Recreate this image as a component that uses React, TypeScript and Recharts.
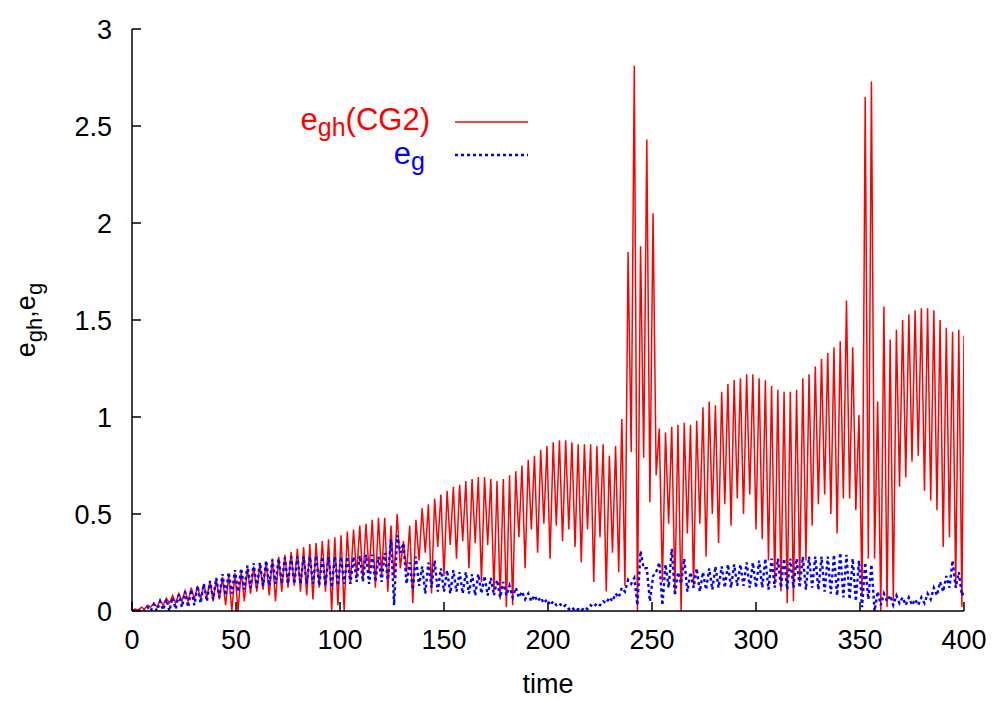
import React from 'react';
import { LineChart, Line, XAxis, YAxis, Legend, Label } from 'recharts';

// half a period of the oscillation; troughs sit on t = 2k*STEP, peaks on (2k+1)*STEP
const STEP = 1.5;

const timeTicks = [0, 50, 100, 150, 200, 250, 300, 350, 400];
const valueTicks = [0, 0.5, 1, 1.5, 2, 2.5, 3];

// e_gh (CG2): local maxima of each cycle
const redPeaks = [
  0.01, 0.02, 0.03, 0.04, 0.055, 0.065, 0.08, 0.09, 0.105, 0.12,
  0.13, 0.14, 0.155, 0.165, 0.175, 0.185, 0.195, 0.205, 0.22, 0.23,
  0.24, 0.255, 0.27, 0.28, 0.29, 0.305, 0.32, 0.33, 0.345, 0.35,
  0.36, 0.37, 0.38, 0.39, 0.41, 0.42, 0.44, 0.45, 0.47, 0.48,
  0.48, 0.44, 0.5, 0.36, 0.44, 0.47, 0.53, 0.55, 0.58, 0.6,
  0.62, 0.64, 0.65, 0.67, 0.68, 0.69, 0.69, 0.68, 0.67, 0.68,
  0.7, 0.72, 0.75, 0.78, 0.8, 0.83, 0.85, 0.87, 0.88, 0.88,
  0.87, 0.86, 0.86, 0.86, 0.85, 0.86, 0.8, 0.85, 0.99, 1.85,
  2.81, 1.88, 2.43, 2.05, 0.94, 0.92, 0.95, 0.96, 0.97, 0.96,
  0.98, 1.05, 1.08, 1.06, 1.13, 1.17, 1.19, 1.2, 1.22, 1.22,
  1.2, 1.19, 1.16, 1.14, 1.13, 1.13, 1.14, 1.2, 1.22, 1.26,
  1.3, 1.33, 1.36, 1.39, 1.6, 1.36, 1.01, 2.65, 2.73, 1.08,
  1.57, 1.4, 1.45, 1.5, 1.53, 1.55, 1.56, 1.56, 1.55, 1.5,
  1.46, 1.44, 1.45,
];

// e_gh (CG2): local minima of each cycle
const redTroughs = [
  0.0, 0.005, 0.01, 0.02, 0.02, 0.03, 0.04, 0.04, 0.05, 0.05,
  0.06, 0.06, 0.07, 0.05, 0.06, 0.03, 0.0, 0.0, 0.05, 0.09,
  0.1, 0.11, 0.08, 0.05, 0.1, 0.12, 0.13, 0.1, 0.08, 0.06,
  0.12, 0.1, 0.0, 0.03, 0.0, 0.14, 0.18, 0.16, 0.2, 0.12,
  0.18, 0.1, 0.17, 0.22, 0.2, 0.04, 0.26, 0.3, 0.09, 0.33,
  0.18, 0.34, 0.27, 0.36, 0.22, 0.35, 0.15, 0.34, 0.1, 0.06,
  0.02, 0.03, 0.38, 0.22, 0.42, 0.3, 0.45, 0.27, 0.44, 0.36,
  0.42, 0.33, 0.25, 0.42, 0.15, 0.38, 0.1, 0.3, 0.2, 0.13,
  0.82, 0.0, 0.79, 0.56, 0.7, 0.15, 0.45, 0.1, 0.0, 0.4,
  0.12, 0.45, 0.28, 0.5, 0.35, 0.55, 0.44, 0.58, 0.5, 0.6,
  0.42, 0.37, 0.26, 0.14, 0.1, 0.04, 0.05, 0.15, 0.26, 0.44,
  0.55, 0.6, 0.5, 0.4, 0.58, 0.58, 0.52, 0.08, 0.27, 0.27,
  0.0, 0.02, 0.05, 0.64, 0.69, 0.77, 0.8, 0.62, 0.57, 0.52,
  0.33, 0.38, 0.12, 0.02,
];

// e_g: local maxima of each cycle
const bluePeaks = [
  0.005, 0.01, 0.02, 0.035, 0.05, 0.06, 0.07, 0.085, 0.1, 0.11,
  0.13, 0.14, 0.155, 0.17, 0.19, 0.2, 0.21, 0.22, 0.235, 0.245,
  0.25, 0.26, 0.265, 0.27, 0.275, 0.28, 0.28, 0.28, 0.28, 0.285,
  0.28, 0.28, 0.28, 0.28, 0.28, 0.28, 0.285, 0.29, 0.29, 0.28,
  0.3, 0.37, 0.39, 0.35, 0.25, 0.28, 0.23, 0.25, 0.26, 0.22,
  0.21, 0.21, 0.2, 0.2, 0.19, 0.19, 0.18, 0.17, 0.16, 0.15,
  0.13, 0.12, 0.1, 0.09, 0.08, 0.07, 0.06, 0.05, 0.04, 0.03,
  0.02, 0.01, 0.02, 0.03, 0.04, 0.05, 0.07, 0.09, 0.12, 0.16,
  0.17, 0.31, 0.22, 0.18, 0.25, 0.24, 0.32, 0.2, 0.27, 0.2,
  0.22, 0.2, 0.22, 0.23, 0.23, 0.24, 0.24, 0.24, 0.25, 0.25,
  0.26, 0.27, 0.27, 0.27, 0.27, 0.27, 0.27, 0.28, 0.28, 0.28,
  0.28, 0.28, 0.29, 0.3, 0.29, 0.27, 0.26, 0.25, 0.24, 0.1,
  0.09, 0.08, 0.08, 0.07, 0.07, 0.06, 0.07, 0.09, 0.12, 0.15,
  0.18, 0.26, 0.2,
];

// e_g: local minima of each cycle
const blueTroughs = [
  0.0, 0.0, 0.0, 0.0, 0.0, 0.005, 0.0, 0.01, 0.02, 0.02,
  0.03, 0.04, 0.05, 0.06, 0.07, 0.08, 0.09, 0.1, 0.11, 0.12,
  0.12, 0.13, 0.13, 0.14, 0.14, 0.14, 0.14, 0.14, 0.14, 0.14,
  0.13, 0.13, 0.12, 0.13, 0.14, 0.14, 0.15, 0.15, 0.14, 0.15,
  0.15, 0.16, 0.03, 0.3, 0.14, 0.11, 0.13, 0.09, 0.12, 0.1,
  0.1, 0.09, 0.1, 0.09, 0.09, 0.08, 0.09, 0.08, 0.08, 0.07,
  0.08, 0.07, 0.07, 0.06, 0.05, 0.05, 0.04, 0.03, 0.03, 0.02,
  0.01, 0.0, 0.0, 0.01, 0.02, 0.03, 0.04, 0.05, 0.07, 0.1,
  0.14, 0.03, 0.22, 0.05, 0.2, 0.03, 0.12, 0.08, 0.14, 0.1,
  0.12, 0.1, 0.11, 0.11, 0.12, 0.12, 0.12, 0.13, 0.13, 0.12,
  0.12, 0.12, 0.11, 0.12, 0.12, 0.11, 0.12, 0.12, 0.11, 0.12,
  0.11, 0.1, 0.09, 0.08, 0.07, 0.06, 0.05, 0.02, 0.06, 0.0,
  0.03, 0.05, 0.03, 0.04, 0.03, 0.03, 0.03, 0.04, 0.06, 0.08,
  0.1, 0.12, 0.12, 0.08,
];

// values at t = 400
const redEnd = 1.42;
const blueEnd = 0.1;

const RED = '#ff0000';
const BLUE = '#0000ff';
const FONT = '"Liberation Sans", Arial, Helvetica, sans-serif';

type Row = { t: number; egh: number; eg: number };

const rows: Row[] = [];
redTroughs.forEach((lo, k) => {
  rows.push({ t: 2 * k * STEP, egh: lo, eg: blueTroughs[k] });
  if (k < redPeaks.length) {
    rows.push({ t: (2 * k + 1) * STEP, egh: redPeaks[k], eg: bluePeaks[k] });
  }
});
rows.push({ t: 400, egh: redEnd, eg: blueEnd });

const axisStyle = { stroke: '#000', strokeWidth: 1.5 };
const tickStyle = { fontSize: 27, fill: '#000', fontFamily: FONT };

const YTitle = ({ viewBox }: any) => {
  const cx = viewBox.x + 35;
  const cy = viewBox.y + viewBox.height / 2;
  return (
    <text
      x={cx}
      y={cy}
      transform={`rotate(-90, ${cx}, ${cy})`}
      textAnchor="middle"
      fontSize={27}
      fontFamily={FONT}
      fill="#000"
    >
      e<tspan dy={7} fontSize={22}>gh</tspan>
      <tspan dy={-7}>,e</tspan>
      <tspan dy={7} fontSize={22}>g</tspan>
    </text>
  );
};

const XTitle = ({ viewBox }: any) => (
  <text
    x={viewBox.x + viewBox.width / 2}
    y={viewBox.y + 82}
    textAnchor="middle"
    fontSize={27}
    fontFamily={FONT}
    fill="#000"
  >
    time
  </text>
);

const KeyBox = () => (
  <svg width={260} height={90} style={{ display: 'block' }}>
    <text x={150} y={35} textAnchor="end" fontSize={31} fontFamily={FONT} fill={RED}>
      e<tspan dy={6} fontSize={25}>gh</tspan>
      <tspan dy={-6}>(CG2)</tspan>
    </text>
    <line x1={175} x2={248} y1={27} y2={27} stroke={RED} strokeWidth={1.4} />
    <text x={145} y={69} textAnchor="end" fontSize={31} fontFamily={FONT} fill={BLUE}>
      e<tspan dy={6} fontSize={25}>g</tspan>
    </text>
    <line x1={175} x2={248} y1={60} y2={60} stroke={BLUE} strokeWidth={2.4} strokeDasharray="3 3" />
  </svg>
);

export default function App() {
  return (
    <div style={{ position: 'absolute', left: 0, top: 0, width: 993, height: 701, background: '#fff' }}>
      <LineChart
        width={993}
        height={701}
        data={rows}
        margin={{ top: 29, right: 29, bottom: 0, left: 0 }}
        style={{ fontFamily: FONT }}
      >
        <XAxis
          xAxisId="bottom"
          dataKey="t"
          type="number"
          domain={[0, 400]}
          ticks={timeTicks}
          height={90}
          axisLine={axisStyle}
          tickLine={axisStyle}
          tickSize={-9}
          tickMargin={28}
          tick={tickStyle}
          interval={0}
          allowDataOverflow
        >
          <Label content={XTitle} />
        </XAxis>
        <XAxis
          xAxisId="top"
          orientation="top"
          dataKey="t"
          type="number"
          domain={[0, 400]}
          ticks={timeTicks}
          height={0}
          axisLine={axisStyle}
          tickLine={axisStyle}
          tickSize={-9}
          tickFormatter={() => ''}
          interval={0}
        />
        <YAxis
          yAxisId="left"
          type="number"
          domain={[0, 3]}
          ticks={valueTicks}
          width={132}
          axisLine={axisStyle}
          tickLine={axisStyle}
          tickSize={-9}
          tickMargin={29}
          tick={tickStyle}
          interval={0}
          allowDataOverflow
        >
          <Label content={YTitle} />
        </YAxis>
        <YAxis
          yAxisId="right"
          orientation="right"
          type="number"
          domain={[0, 3]}
          ticks={valueTicks}
          width={0}
          axisLine={axisStyle}
          tickLine={axisStyle}
          tickSize={-9}
          tickFormatter={() => ''}
          interval={0}
        />
        <Legend
          content={KeyBox}
          layout="horizontal"
          verticalAlign="middle"
          align="center"
          wrapperStyle={{ left: 280, top: 95, width: 260 }}
        />
        <Line
          xAxisId="bottom"
          yAxisId="left"
          type="linear"
          dataKey="egh"
          stroke={RED}
          strokeWidth={1.5}
          dot={false}
          isAnimationActive={false}
        />
        <Line
          xAxisId="bottom"
          yAxisId="left"
          type="linear"
          dataKey="eg"
          stroke={BLUE}
          strokeWidth={2.4}
          strokeDasharray="3 3"
          dot={false}
          isAnimationActive={false}
        />
      </LineChart>
    </div>
  );
}
